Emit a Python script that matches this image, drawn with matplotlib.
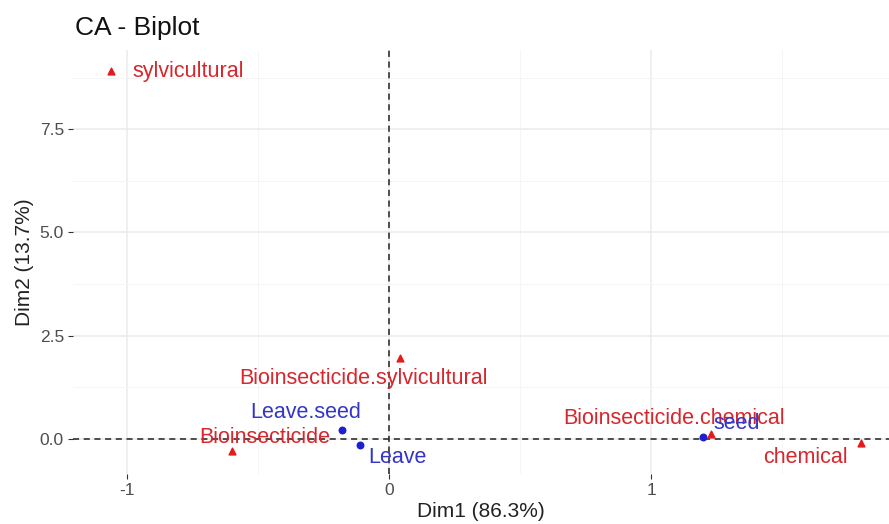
import numpy as np
import matplotlib
matplotlib.use("Agg")
import matplotlib.pyplot as plt
from matplotlib.ticker import MultipleLocator

plt.rcParams['font.family'] = ['Liberation Sans', 'DejaVu Sans']
plt.rcParams['axes.unicode_minus'] = False

# column points (red triangles)
col_names = ['sylvicultural', 'Bioinsecticide.sylvicultural', 'Bioinsecticide',
             'Bioinsecticide.chemical', 'chemical']
col_x = [-1.06, 0.04, -0.60, 1.23, 1.80]
col_y = [8.91, 1.96, -0.29, 0.12, -0.10]

# row points (blue dots)
row_names = ['Leave.seed', 'Leave', 'seed']
row_x = [-0.18, -0.11, 1.20]
row_y = [0.22, -0.15, 0.05]

# label offsets in pixels (repel-like placement)
col_off = [(77, 0), (-36, -21), (33, 13), (-37, 15), (-55, -14)]
row_off = [(-36, 17), (37, -12), (33, 13)]

red = '#E41A1C'
blue = '#1F1FD0'

fig = plt.figure(figsize=(8.89, 5.24), dpi=100)
ax = fig.add_axes([73/889, 1 - 474/524, 1 - 73/889, (474 - 50)/524])

ax.set_xlim(-1.206, 1.908)
ax.set_ylim(-0.85, 9.42)

ax.xaxis.set_major_locator(MultipleLocator(1))
ax.xaxis.set_minor_locator(MultipleLocator(0.5))
ax.yaxis.set_major_locator(MultipleLocator(2.5))
ax.yaxis.set_minor_locator(MultipleLocator(1.25))
ax.yaxis.set_major_formatter(matplotlib.ticker.FormatStrFormatter('%.1f'))

ax.grid(which='major', color='#EBEBEB', lw=1.1)
ax.grid(which='minor', color='#F4F4F4', lw=0.6)
ax.set_axisbelow(True)
for s in ax.spines.values():
    s.set_visible(False)
ax.tick_params(which='major', length=3.5, color='#333333', labelcolor='#4D4D4D',
               labelsize=12.5, pad=3)
ax.tick_params(which='minor', length=0)

ax.axhline(0, color='#222222', ls=(0, (4, 3)), lw=1.1, zorder=1)
ax.axvline(0, color='#222222', ls=(0, (4, 3)), lw=1.1, zorder=1)

ax.scatter(col_x, col_y, marker='^', s=24, color=red, zorder=3)
ax.scatter(row_x, row_y, marker='o', s=22, color=blue, zorder=3)

for n, x, y, (dx, dy) in zip(col_names, col_x, col_y, col_off):
    ax.annotate(n, (x, y), xytext=(dx * 0.72, dy * 0.72), textcoords='offset points',
                ha='center', va='center', color='#D7262C', fontsize=15.5, zorder=4)
for n, x, y, (dx, dy) in zip(row_names, row_x, row_y, row_off):
    ax.annotate(n, (x, y), xytext=(dx * 0.72, dy * 0.72), textcoords='offset points',
                ha='center', va='center', color='#3535C8', fontsize=15.5, zorder=4)

ax.set_xlabel('Dim1 (86.3%)', fontsize=15, color='#222222', labelpad=3)
ax.set_ylabel('Dim2 (13.7%)', fontsize=15, color='#222222', labelpad=4)
fig.text(75/889, 1 - 28/524, 'CA - Biplot', fontsize=19, color='#111111', va='center', ha='left')

fig.savefig('out.png', dpi=100)
